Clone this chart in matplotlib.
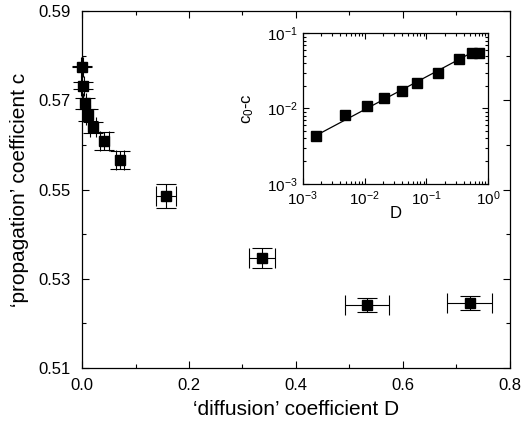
import matplotlib
matplotlib.use("Agg")
import matplotlib.pyplot as plt
from matplotlib.ticker import MultipleLocator, LogLocator, NullFormatter

plt.rcParams["font.family"] = ["Liberation Sans", "DejaVu Sans"]
plt.rcParams["mathtext.fontset"] = "custom"
plt.rcParams["mathtext.rm"] = "Liberation Sans"
plt.rcParams["mathtext.it"] = "Liberation Sans"

# main panel: propagation coefficient vs diffusion coefficient
D = [0.0, 0.0016, 0.0048, 0.0108, 0.0206, 0.0417, 0.071, 0.157, 0.337, 0.532, 0.725]
c = [0.5775, 0.5733, 0.5693, 0.5667, 0.5639, 0.5609, 0.5566, 0.5486, 0.5346, 0.5241, 0.5246]
D_err = [0.002, 0.003, 0.003, 0.004, 0.005, 0.008, 0.007, 0.019, 0.024, 0.041, 0.042]
c_err = [0.0001, 0.0008, 0.0013, 0.0013, 0.0012, 0.002, 0.002, 0.0027, 0.0023, 0.0016, 0.0016]
c_ticks = [0.51, 0.53, 0.55, 0.57, 0.59]

# inset: c0 - c vs D (log-log)
D_in = [1.62e-3, 4.8e-3, 1.08e-2, 2.06e-2, 4.1e-2, 6.95e-2, 0.155, 0.335, 0.537, 0.713]
dc_in = [4.35e-3, 8.2e-3, 1.09e-2, 1.37e-2, 1.73e-2, 2.16e-2, 2.99e-2, 4.5e-2, 5.5e-2, 5.5e-2]
fit_D = [1.62e-3, 0.53]
fit_dc = [4.35e-3, 5.49e-2]

fig = plt.figure(figsize=(5.25, 4.23), dpi=100)
ax = fig.add_axes([0.1562, 0.130, 0.8152, 0.844])

ax.errorbar(D, c, xerr=D_err, yerr=c_err, fmt="s", color="black",
            ms=6.5, elinewidth=0.8, capsize=7, capthick=0.8,
            clip_on=False, zorder=3)
ax.set_xlim(0.0, 0.8)
ax.set_ylim(0.51, 0.59)
ax.xaxis.set_major_locator(MultipleLocator(0.2))
ax.xaxis.set_minor_locator(MultipleLocator(0.1))
ax.set_yticks(c_ticks)
ax.set_yticks([0.52, 0.54, 0.56, 0.58], minor=True)
ax.xaxis.set_major_formatter(plt.FormatStrFormatter("%.1f"))
ax.yaxis.set_major_formatter(plt.FormatStrFormatter("%.2f"))
ax.tick_params(which="both", direction="in", top=True, right=True, labelsize=12, width=0.8)
ax.tick_params(which="major", length=5)
ax.tick_params(which="minor", length=3)
ax.tick_params(axis="y", pad=8)
ax.tick_params(axis="x", pad=7)
ax.set_xlabel("\u2018diffusion\u2019 coefficient D", fontsize=15, labelpad=5)
ax.set_ylabel("\u2018propagation\u2019 coefficient c", fontsize=15, labelpad=7)
for s in ax.spines.values():
    s.set_linewidth(0.9)

ins = fig.add_axes([0.5766, 0.5657, 0.3535, 0.3556])
ins.plot(fit_D, fit_dc, color="black", lw=0.9)
ins.plot(D_in, dc_in, "s", color="black", ms=6.5)
ins.set_xscale("log")
ins.set_yscale("log")
ins.set_xlim(1e-3, 1.0)
ins.set_ylim(1e-3, 1e-1)
ins.xaxis.set_minor_locator(LogLocator(base=10, subs=range(2, 10)))
ins.yaxis.set_minor_locator(LogLocator(base=10, subs=range(2, 10)))
ins.xaxis.set_minor_formatter(NullFormatter())
ins.yaxis.set_minor_formatter(NullFormatter())
ins.tick_params(which="both", direction="in", top=True, right=True, labelsize=11, width=0.8)
ins.tick_params(which="major", length=4)
ins.tick_params(which="minor", length=2)
ins.tick_params(axis="x", pad=4)
ins.set_xlabel("D", fontsize=12, labelpad=-1)
ins.set_ylabel("c$_0$-c", fontsize=12, labelpad=8)
for s in ins.spines.values():
    s.set_linewidth(0.9)

fig.savefig("out.png", dpi=100)
